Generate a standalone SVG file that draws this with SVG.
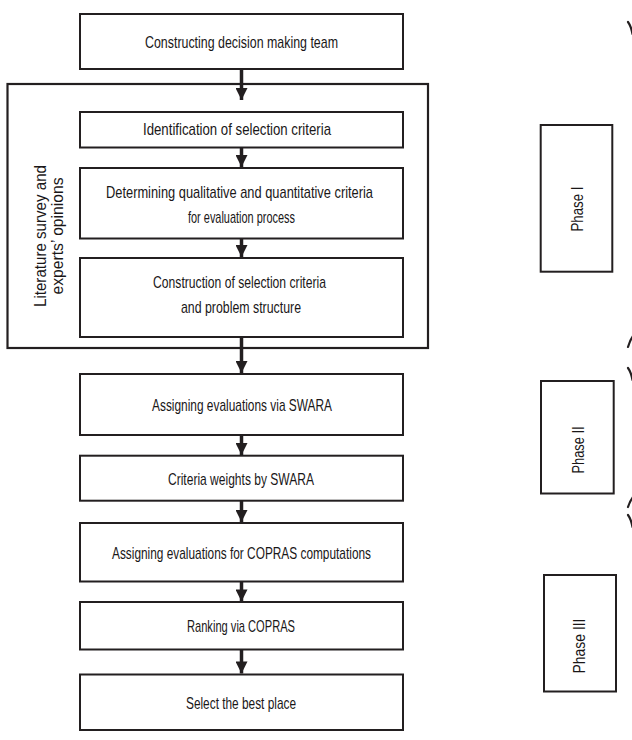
<svg xmlns="http://www.w3.org/2000/svg" width="632" height="740" viewBox="0 0 632 740">
  <style>
    .box { fill: #fff; stroke: #231f20; stroke-width: 2; }
    .outer { fill: none; stroke: #231f20; stroke-width: 2.2; }
    .t { font-family: "Liberation Sans Narrow", "Liberation Sans", Arial, sans-serif; font-size: 17px; fill: #1a1718; text-anchor: middle; }
    .conn { stroke: #231f20; stroke-width: 3.5; fill: none; }
    .brace { stroke: #231f20; stroke-width: 2.2; fill: none; stroke-linecap: round; }
  </style>
  <defs>
    <marker id="ah" markerUnits="userSpaceOnUse" markerWidth="14" markerHeight="12" refX="13" refY="6.5" orient="auto" viewBox="0 0 14 13">
      <path d="M0,0 L13,6.5 L0,13 Z" fill="#231f20"/>
    </marker>
  </defs>

  <g id="container">
    <rect class="outer" x="7.5" y="84" width="420.5" height="264"/>
    <text class="t" transform="translate(46,236) rotate(-90)" x="0" y="0" textLength="142" lengthAdjust="spacingAndGlyphs">Literature survey and</text>
    <text class="t" transform="translate(63,236) rotate(-90)" x="0" y="0" textLength="117" lengthAdjust="spacingAndGlyphs">experts’ opinions</text>
  </g>

  <g id="connectors">
    <line class="conn" x1="241.5" y1="69" x2="241.5" y2="100" marker-end="url(#ah)"/>
    <line class="conn" x1="241.5" y1="148" x2="241.5" y2="167" marker-end="url(#ah)"/>
    <line class="conn" x1="241.5" y1="239" x2="241.5" y2="257" marker-end="url(#ah)"/>
    <line class="conn" x1="241.5" y1="338" x2="241.5" y2="373" marker-end="url(#ah)"/>
    <line class="conn" x1="241.5" y1="436" x2="241.5" y2="455" marker-end="url(#ah)"/>
    <line class="conn" x1="241.5" y1="501" x2="241.5" y2="522" marker-end="url(#ah)"/>
    <line class="conn" x1="241.5" y1="582" x2="241.5" y2="601.5" marker-end="url(#ah)"/>
    <line class="conn" x1="241.5" y1="650" x2="241.5" y2="673.5" marker-end="url(#ah)"/>
  </g>

  <g id="n1">
    <rect class="box" x="80" y="14" width="323" height="55"/>
    <text class="t" x="241.5" y="48" textLength="193" lengthAdjust="spacingAndGlyphs">Constructing  decision making team</text>
  </g>
  <g id="n2">
    <rect class="box" x="80" y="112" width="323" height="35.5"/>
    <text class="t" x="237" y="135" textLength="188" lengthAdjust="spacingAndGlyphs">Identification of selection criteria</text>
  </g>
  <g id="n3">
    <rect class="box" x="80" y="168" width="323" height="70.5"/>
    <text class="t" x="239.5" y="198" textLength="267" lengthAdjust="spacingAndGlyphs">Determining qualitative and quantitative criteria</text>
    <text class="t" x="241.5" y="223" textLength="107" lengthAdjust="spacingAndGlyphs">for evaluation process</text>
  </g>
  <g id="n4">
    <rect class="box" x="80" y="258" width="323" height="79"/>
    <text class="t" x="239.5" y="288" textLength="173" lengthAdjust="spacingAndGlyphs">Construction of selection criteria</text>
    <text class="t" x="241" y="313" textLength="120" lengthAdjust="spacingAndGlyphs">and problem structure</text>
  </g>
  <g id="n5">
    <rect class="box" x="80" y="374" width="323" height="61"/>
    <text class="t" x="242" y="411" textLength="180" lengthAdjust="spacingAndGlyphs">Assigning evaluations via SWARA</text>
  </g>
  <g id="n6">
    <rect class="box" x="80" y="455.7" width="323" height="45"/>
    <text class="t" x="241" y="485" textLength="146" lengthAdjust="spacingAndGlyphs">Criteria weights by  SWARA</text>
  </g>
  <g id="n7">
    <rect class="box" x="80" y="523" width="323" height="58.5"/>
    <text class="t" x="241.5" y="558.5" textLength="259" lengthAdjust="spacingAndGlyphs">Assigning evaluations for COPRAS computations</text>
  </g>
  <g id="n8">
    <rect class="box" x="80" y="602" width="323" height="47.5"/>
    <text class="t" x="241" y="632" textLength="108" lengthAdjust="spacingAndGlyphs">Ranking via COPRAS</text>
  </g>
  <g id="n9">
    <rect class="box" x="80" y="674.5" width="323" height="55.5"/>
    <text class="t" x="241" y="708.5" textLength="110" lengthAdjust="spacingAndGlyphs">Select the best place</text>
  </g>

  <g id="phase1">
    <rect class="box" x="540.7" y="125" width="71.6" height="146.7"/>
    <text class="t" transform="translate(583,209) rotate(-90)" x="0" y="0" textLength="45" lengthAdjust="spacingAndGlyphs">Phase I</text>
  </g>
  <g id="phase2">
    <rect class="box" x="541" y="381" width="72.7" height="112.5"/>
    <text class="t" transform="translate(583.5,450) rotate(-90)" x="0" y="0" textLength="47" lengthAdjust="spacingAndGlyphs">Phase II</text>
  </g>
  <g id="phase3">
    <rect class="box" x="544" y="575" width="72" height="116.5"/>
    <text class="t" transform="translate(584.5,646) rotate(-90)" x="0" y="0" textLength="55" lengthAdjust="spacingAndGlyphs">Phase III</text>
  </g>

  <g id="braces">
    <path class="brace" d="M628,22 Q631,26 632.5,34"/>
    <path class="brace" d="M628,347 Q630,340 633,336"/>
    <path class="brace" d="M628,368 Q631,372 632.5,380"/>
    <path class="brace" d="M628,507 Q630,501 633,497"/>
    <path class="brace" d="M628,515 Q631,519 632.5,527"/>
  </g>
</svg>
